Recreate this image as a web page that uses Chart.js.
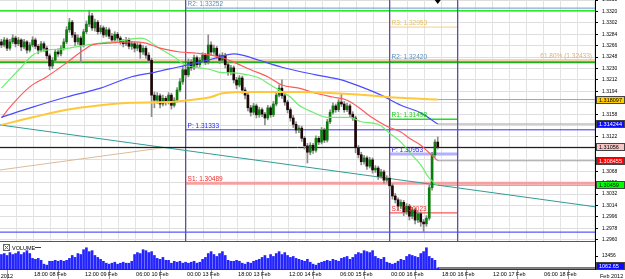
<!DOCTYPE html>
<html>
<head>
<meta charset="utf-8">
<script src="https://cdn.jsdelivr.net/npm/chart.js@4.4.1/dist/chart.umd.min.js"></script>
<style>
  html, body { margin: 0; padding: 0; background: #fff; }
</style>
</head>
<body>
<canvas id="chart" width="625" height="279"></canvas>
<script>
// hourly bars, 07:00 08 Feb .. 17:00 16 Feb 2012
const open = [1.3272, 1.3267, 1.3275, 1.3262, 1.3272, 1.3278, 1.3269, 1.3275, 1.3264, 1.3272,
  1.3259, 1.3267, 1.3275, 1.3265, 1.3259, 1.3269, 1.3262, 1.3250, 1.3234, 1.3243,
  1.3256, 1.3253, 1.3262, 1.3272, 1.3291, 1.3303, 1.3283, 1.3272, 1.3278, 1.3267,
  1.3288, 1.3300, 1.3313, 1.3294, 1.3303, 1.3288, 1.3294, 1.3283, 1.3291, 1.3281,
  1.3275, 1.3284, 1.3278, 1.3272, 1.3269, 1.3275, 1.3265, 1.3269, 1.3262, 1.3267,
  1.3256, 1.3262, 1.3251, 1.3243, 1.3188, 1.3180, 1.3187, 1.3174, 1.3183, 1.3177,
  1.3188, 1.3172, 1.3180, 1.3196, 1.3209, 1.3228, 1.3220, 1.3240, 1.3231, 1.3247,
  1.3236, 1.3243, 1.3251, 1.3240, 1.3267, 1.3256, 1.3262, 1.3250, 1.3243, 1.3251,
  1.3236, 1.3224, 1.3231, 1.3212, 1.3204, 1.3215, 1.3196, 1.3188, 1.3168, 1.3161,
  1.3171, 1.3157, 1.3165, 1.3158, 1.3152, 1.3168, 1.3157, 1.3174, 1.3188, 1.3199,
  1.3187, 1.3177, 1.3165, 1.3152, 1.3142, 1.3133, 1.3136, 1.3120, 1.3108, 1.3098,
  1.3109, 1.3101, 1.3120, 1.3114, 1.3133, 1.3117, 1.3146, 1.3161, 1.3171, 1.3165,
  1.3177, 1.3174, 1.3165, 1.3171, 1.3158, 1.3152, 1.3105, 1.3094, 1.3083, 1.3089,
  1.3076, 1.3086, 1.3070, 1.3073, 1.3060, 1.3067, 1.3054, 1.3057, 1.3045, 1.3029,
  1.3023, 1.3013, 1.3019, 1.3004, 1.3013, 1.2997, 1.3007, 1.2991, 1.3001, 1.2988,
  1.2985, 1.2994, 1.3042, 1.3094, 1.3114];
const high = [1.3276, 1.3279, 1.3278, 1.3276, 1.3283, 1.3281, 1.3279, 1.3277, 1.3276, 1.3274,
  1.3271, 1.3280, 1.3278, 1.3268, 1.3273, 1.3272, 1.3265, 1.3253, 1.3247, 1.3260,
  1.3261, 1.3266, 1.3277, 1.3296, 1.3309, 1.3306, 1.3287, 1.3283, 1.3281, 1.3292,
  1.3305, 1.3322, 1.3317, 1.3308, 1.3306, 1.3298, 1.3297, 1.3295, 1.3294, 1.3285,
  1.3288, 1.3287, 1.3281, 1.3276, 1.3279, 1.3278, 1.3273, 1.3272, 1.3271, 1.3270,
  1.3266, 1.3265, 1.3255, 1.3246, 1.3193, 1.3192, 1.3190, 1.3188, 1.3186, 1.3192,
  1.3191, 1.3184, 1.3200, 1.3214, 1.3234, 1.3232, 1.3245, 1.3244, 1.3251, 1.3250,
  1.3247, 1.3255, 1.3254, 1.3283, 1.3272, 1.3267, 1.3265, 1.3253, 1.3255, 1.3254,
  1.3239, 1.3235, 1.3234, 1.3216, 1.3219, 1.3218, 1.3200, 1.3191, 1.3172, 1.3175,
  1.3174, 1.3169, 1.3168, 1.3161, 1.3172, 1.3171, 1.3178, 1.3192, 1.3204, 1.3212,
  1.3191, 1.3180, 1.3168, 1.3156, 1.3146, 1.3140, 1.3139, 1.3123, 1.3112, 1.3113,
  1.3112, 1.3124, 1.3123, 1.3137, 1.3136, 1.3150, 1.3165, 1.3176, 1.3174, 1.3181,
  1.3191, 1.3178, 1.3175, 1.3174, 1.3162, 1.3155, 1.3109, 1.3098, 1.3093, 1.3092,
  1.3090, 1.3089, 1.3077, 1.3076, 1.3071, 1.3070, 1.3061, 1.3060, 1.3048, 1.3033,
  1.3026, 1.3023, 1.3022, 1.3017, 1.3016, 1.3011, 1.3010, 1.3005, 1.3004, 1.2992,
  1.2998, 1.3046, 1.3098, 1.3118, 1.3122];
const low = [1.3263, 1.3264, 1.3258, 1.3259, 1.3269, 1.3264, 1.3266, 1.3258, 1.3261, 1.3254,
  1.3256, 1.3264, 1.3261, 1.3253, 1.3256, 1.3257, 1.3245, 1.3228, 1.3230, 1.3240,
  1.3249, 1.3250, 1.3259, 1.3269, 1.3287, 1.3279, 1.3266, 1.3268, 1.3239, 1.3264,
  1.3285, 1.3296, 1.3290, 1.3289, 1.3284, 1.3285, 1.3279, 1.3280, 1.3277, 1.3271,
  1.3272, 1.3274, 1.3268, 1.3264, 1.3266, 1.3261, 1.3260, 1.3256, 1.3258, 1.3246,
  1.3252, 1.3246, 1.3239, 1.3154, 1.3168, 1.3175, 1.3168, 1.3171, 1.3172, 1.3174,
  1.3166, 1.3169, 1.3177, 1.3193, 1.3205, 1.3215, 1.3217, 1.3227, 1.3228, 1.3232,
  1.3233, 1.3240, 1.3236, 1.3237, 1.3251, 1.3252, 1.3246, 1.3238, 1.3240, 1.3231,
  1.3219, 1.3220, 1.3207, 1.3198, 1.3201, 1.3191, 1.3182, 1.3163, 1.3155, 1.3157,
  1.3152, 1.3153, 1.3154, 1.3141, 1.3149, 1.3153, 1.3154, 1.3171, 1.3185, 1.3183,
  1.3172, 1.3160, 1.3147, 1.3137, 1.3128, 1.3129, 1.3115, 1.3103, 1.3081, 1.3094,
  1.3096, 1.3098, 1.3110, 1.3111, 1.3113, 1.3114, 1.3143, 1.3158, 1.3161, 1.3162,
  1.3170, 1.3161, 1.3162, 1.3154, 1.3148, 1.3097, 1.3089, 1.3078, 1.3079, 1.3071,
  1.3073, 1.3065, 1.3066, 1.3055, 1.3057, 1.3049, 1.3051, 1.3040, 1.3024, 1.3018,
  1.3007, 1.3009, 1.2998, 1.3000, 1.2991, 1.2993, 1.2985, 1.2987, 1.2981, 1.2972,
  1.2981, 1.2991, 1.3038, 1.3090, 1.3103];
const close = [1.3267, 1.3275, 1.3262, 1.3272, 1.3278, 1.3269, 1.3275, 1.3264, 1.3272, 1.3259,
  1.3267, 1.3275, 1.3265, 1.3259, 1.3269, 1.3262, 1.3250, 1.3234, 1.3243, 1.3256,
  1.3253, 1.3262, 1.3272, 1.3291, 1.3303, 1.3283, 1.3272, 1.3278, 1.3267, 1.3288,
  1.3300, 1.3313, 1.3294, 1.3303, 1.3288, 1.3294, 1.3283, 1.3291, 1.3281, 1.3275,
  1.3284, 1.3278, 1.3272, 1.3269, 1.3275, 1.3265, 1.3269, 1.3262, 1.3267, 1.3256,
  1.3262, 1.3251, 1.3243, 1.3188, 1.3180, 1.3187, 1.3174, 1.3183, 1.3177, 1.3188,
  1.3172, 1.3180, 1.3196, 1.3209, 1.3228, 1.3220, 1.3240, 1.3231, 1.3247, 1.3236,
  1.3243, 1.3251, 1.3240, 1.3267, 1.3256, 1.3262, 1.3250, 1.3243, 1.3251, 1.3236,
  1.3224, 1.3231, 1.3212, 1.3204, 1.3215, 1.3196, 1.3188, 1.3168, 1.3161, 1.3171,
  1.3157, 1.3165, 1.3158, 1.3152, 1.3168, 1.3157, 1.3174, 1.3188, 1.3199, 1.3187,
  1.3177, 1.3165, 1.3152, 1.3142, 1.3133, 1.3136, 1.3120, 1.3108, 1.3098, 1.3109,
  1.3101, 1.3120, 1.3114, 1.3133, 1.3117, 1.3146, 1.3161, 1.3171, 1.3165, 1.3177,
  1.3174, 1.3165, 1.3171, 1.3158, 1.3152, 1.3105, 1.3094, 1.3083, 1.3089, 1.3076,
  1.3086, 1.3070, 1.3073, 1.3060, 1.3067, 1.3054, 1.3057, 1.3045, 1.3029, 1.3023,
  1.3013, 1.3019, 1.3004, 1.3013, 1.2997, 1.3007, 1.2991, 1.3001, 1.2988, 1.2985,
  1.2994, 1.3042, 1.3094, 1.3114, 1.31056];
const volume = [15000, 16000, 14000, 17000, 15000, 16000, 18000, 15000, 17000, 19000, 16000,
  11000, 10000, 11000, 9000, 5000, 4000,
  8000, 8000, 9000, 8000, 9000, 8000, 9000,
  11000, 14000, 12000, 16000, 15000,
  20000, 22000, 18000, 19000, 14000,
  12000, 10000, 8000, 6000, 5000,
  6000, 7000, 5000, 6000, 7000, 6000, 6000, 8000,
  15000, 17000, 16000, 20000, 19000, 17000,
  18000, 14000, 11000, 10000, 12000,
  9000, 9000, 6000, 8000, 7000,
  8000, 6000, 7000, 6000, 7000, 8000, 6000, 7000,
  10000, 12000, 16000, 18000, 15000, 13000, 16000, 18000, 14000,
  9000, 8000, 8000, 9000, 8000,
  6000, 5000, 7000, 6000, 8000, 9000,
  10000, 12000, 14000, 11000, 15000, 13000,
  16000, 18000, 15000, 17000, 14000, 12000, 13000,
  11000, 10000, 9000, 8000, 10000, 7000,
  5000, 4000, 6000, 7000, 8000,
  9000, 8000, 10000, 9000, 8000,
  11000, 12000, 13000, 10000, 12000,
  15000, 17000, 16000, 19000, 18000, 17000, 19000,
  13000, 11000, 10000, 12000,
  7000, 6000, 5000, 6000,
  8000, 10000, 9000, 13000, 15000,
  14000, 13000, 12000, 16000, 18000, 22000,
  13000, 11000, 9000, 1000];

// moving averages read at a few bars each
const maGreenIdx = [0, 7, 11, 16, 22, 30, 35, 41, 49, 51, 55, 61, 65, 70, 74, 77, 82, 87, 91, 95, 98, 102, 105, 110, 115, 120, 123, 127, 133, 137, 141, 144, 148, 151, 154];
const maGreenVal = [1.3199, 1.3232, 1.3251, 1.3259, 1.3261, 1.3267, 1.3270, 1.3273, 1.3278, 1.3276, 1.3264, 1.3248, 1.3235, 1.3231, 1.3228, 1.3224, 1.3223, 1.3220, 1.3215, 1.3204, 1.3196, 1.3185, 1.3172, 1.3161, 1.3153, 1.3153, 1.3153, 1.3146, 1.3142, 1.3128, 1.3114, 1.3098, 1.3078, 1.3057, 1.30459];
const maRedIdx = [0, 3, 10, 16, 23, 29, 32, 38, 46, 51, 56, 63, 69, 78, 82, 88, 94, 99, 105, 111, 117, 122, 126, 130, 136, 141, 144, 148, 151, 154];
const maRedVal = [1.3152, 1.3169, 1.3201, 1.3217, 1.3239, 1.3259, 1.3267, 1.3270, 1.3272, 1.3270, 1.3262, 1.3256, 1.3254, 1.3247, 1.3240, 1.3228, 1.3217, 1.3204, 1.3199, 1.3191, 1.3185, 1.3180, 1.3169, 1.3155, 1.3139, 1.3130, 1.3120, 1.3109, 1.3097, 1.308455];
const maBlueIdx = [0, 11, 23, 35, 46, 54, 62, 70, 77, 82, 85, 91, 99, 111, 120, 127, 134, 141, 148, 154];
const maBlueVal = [1.3153, 1.3169, 1.3185, 1.3199, 1.3217, 1.3224, 1.3232, 1.3240, 1.3248, 1.3253, 1.3251, 1.3243, 1.3232, 1.3220, 1.3212, 1.3201, 1.3188, 1.3172, 1.3160, 1.314244];
const maGoldIdx = [0, 11, 23, 35, 46, 58, 66, 74, 78, 88, 105, 117, 129, 136, 144, 154];
const maGoldVal = [1.3141, 1.3153, 1.3165, 1.3172, 1.3176, 1.3177, 1.3180, 1.3185, 1.3191, 1.3193, 1.3193, 1.3191, 1.3188, 1.3185, 1.3183, 1.318097];

// levels
const periodStart = [65, 137, 161];                          // 00:00 13 Feb, 00:00 16 Feb, 00:00 17 Feb
const weekPivot = [1.33252, 1.31333, 1.30489];                // R2, P, S1
const dayPivot = [1.32953, 1.32420, 1.31498, 1.30953, 1.30023]; // R3, R2, R1, P, S1
const fibLevel = 1.32433;
const greenLevels = [1.3321, 1.3240];
const bidPrice = 1.31056;
const lowerLine = 1.2972;
const tealTrend = [1.3141, 1.3012];
const tanTrend = [1.3070, 1.3105];
const tanTrendEnd = 57;
const lastVolume = 1062.65;

const xTickIdx = [11, 29, 47, 65, 83, 101, 119, 137, 155, 173, 191];
const xTickLabels = ['18:00 08 Feb', '12:00 09 Feb', '06:00 10 Feb', '00:00 13 Feb', '18:00 13 Feb',
  '12:00 14 Feb', '06:00 15 Feb', '00:00 16 Feb', '18:00 16 Feb', '12:00 17 Feb', '06:00 18 Feb'];
const priceTicks = [1.2960, 1.2978, 1.2996, 1.3014, 1.3032, 1.3050, 1.3068, 1.3086, 1.3104, 1.3122, 1.3140,
  1.3158, 1.3176, 1.3194, 1.3212, 1.3230, 1.3248, 1.3266, 1.3284, 1.3302, 1.3320, 1.3338];
const volTicks = [13456];

const X_MIN = -0.5, X_MAX = 209.5, P_MIN = 1.2958, P_MAX = 1.3338;
const last = close.length - 1;
const idx = close.map((_, i) => i);

Chart.defaults.font.family = '"Liberation Sans", Arial, sans-serif';

function maLine(xs, ys, color, width) {
  return {
    type: 'line', data: xs.map((x, k) => ({ x: x, y: ys[k] })),
    borderColor: color, borderWidth: width, pointRadius: 0,
    cubicInterpolationMode: 'monotone', yAxisID: 'y', order: 1
  };
}
function hLine(x0, x1, v, color, width, order) {
  return {
    type: 'line', data: [{ x: x0, y: v }, { x: x1, y: v }],
    borderColor: color, borderWidth: width, pointRadius: 0, yAxisID: 'y', order: order || 20
  };
}

const datasets = [
  maLine(maGoldIdx, maGoldVal, '#ffc83a', 2),
  maLine(maBlueIdx, maBlueVal, '#4b4bff', 1.2),
  maLine(maRedIdx, maRedVal, '#ff5a5a', 1.2),
  maLine(maGreenIdx, maGreenVal, '#6cee6c', 1.2),
  {
    type: 'bar', data: idx.map(i => ({ x: i, y: [open[i], close[i]] })),
    backgroundColor: idx.map(i => close[i] >= open[i] ? '#0b7d0b' : '#1c0606'),
    barThickness: 2, grouped: false, minBarLength: 1, yAxisID: 'y', order: 3
  },
  {
    type: 'bar', data: idx.map(i => ({ x: i, y: [low[i], high[i]] })),
    backgroundColor: '#8c8c8c', barThickness: 1, grouped: false, yAxisID: 'y', order: 4
  },
  {
    type: 'bar', data: idx.map(i => ({ x: i, y: volume[i] })),
    backgroundColor: '#2424ff', barThickness: 2, grouped: false, yAxisID: 'yv', order: 4
  },
  { type: 'line', data: [{ x: last, y: lastVolume }, { x: X_MAX, y: lastVolume }], borderColor: '#000', borderWidth: 1, pointRadius: 0, yAxisID: 'yv', order: 5 },
  // trend lines
  { type: 'line', data: [{ x: X_MIN, y: tealTrend[0] }, { x: X_MAX, y: tealTrend[1] }], borderColor: '#2f9c96', borderWidth: 1, pointRadius: 0, yAxisID: 'y', order: 18 },
  { type: 'line', data: [{ x: X_MIN, y: tanTrend[0] }, { x: tanTrendEnd, y: tanTrend[1] }], borderColor: '#dcbb96', borderWidth: 1, pointRadius: 0, yAxisID: 'y', order: 18 },
  // full width levels
  hLine(X_MIN, X_MAX, greenLevels[0], '#2ee82e', 1.5),
  hLine(X_MIN, X_MAX, fibLevel, '#f2c58a', 1.5),
  hLine(X_MIN, X_MAX, greenLevels[1], '#1fae1f', 2),
  hLine(X_MIN, X_MAX, bidPrice, '#000000', 1, 6),
  hLine(X_MIN, X_MAX, lowerLine, '#3030ff', 1),
  // weekly pivots from 13 Feb
  hLine(periodStart[0], X_MAX, weekPivot[0], '#6a9cc6', 1),
  hLine(periodStart[0], X_MAX, weekPivot[1], '#2f2fff', 1),
  hLine(periodStart[0], X_MAX, weekPivot[2], '#f7a0a0', 3),
  // daily pivots 16 Feb
  hLine(periodStart[1], periodStart[2], dayPivot[0], '#f5cf80', 1),
  hLine(periodStart[1], periodStart[2], dayPivot[1], '#7fa3c2', 1),
  hLine(periodStart[1], periodStart[2], dayPivot[2], '#22dd22', 1.5),
  hLine(periodStart[1], periodStart[2], dayPivot[3], '#b0b0ff', 3),
  hLine(periodStart[1], periodStart[2], dayPivot[4], '#f03030', 1),
  // moving average end markers
  hLine(last, X_MAX, maGoldVal[maGoldVal.length - 1], '#a0a0a0', 1),
  hLine(last, X_MAX, maBlueVal[maBlueVal.length - 1], '#a0a0a0', 1),
  hLine(last, X_MAX, maRedVal[maRedVal.length - 1], '#a0a0a0', 1),
  hLine(last, X_MAX, maGreenVal[maGreenVal.length - 1], '#a0a0a0', 1)
];
// period separators
periodStart.forEach(p => datasets.push({
  type: 'line', data: [{ x: p, y: P_MIN }, { x: p, y: P_MAX }],
  borderColor: '#6f3fc8', borderWidth: 1.2, pointRadius: 0, yAxisID: 'y', order: 19
}));

const overlay = {
  id: 'overlay',
  beforeDatasetsDraw(chart) {
    const { ctx } = chart;
    const xs = chart.scales.x, ys = chart.scales.y;
    ctx.save();
    ctx.strokeStyle = '#e3e3e3';
    ctx.lineWidth = 1;
    for (let i = 5; i < X_MAX; i += 6) {
      const px = Math.round(xs.getPixelForValue(i)) + 0.5;
      ctx.beginPath(); ctx.moveTo(px, ys.top); ctx.lineTo(px, ys.bottom); ctx.stroke();
    }
    ctx.restore();
  },
  afterDraw(chart) {
    const { ctx, chartArea } = chart;
    const xs = chart.scales.x, ys = chart.scales.y, yv = chart.scales.yv;
    ctx.save();

    // pane separator
    ctx.strokeStyle = '#555';
    ctx.beginPath(); ctx.moveTo(chartArea.left, Math.round(ys.bottom) + 0.5); ctx.lineTo(chartArea.right, Math.round(ys.bottom) + 0.5); ctx.stroke();

    // pivot labels
    ctx.font = '6.5px "Liberation Sans", Arial, sans-serif';
    ctx.textBaseline = 'bottom';
    ctx.textAlign = 'left';
    const lab = (txt, xi, v, color) => {
      ctx.fillStyle = color;
      ctx.fillText(txt, xs.getPixelForValue(xi) + 2, ys.getPixelForValue(v) - 0.5);
    };
    lab('R2: ' + weekPivot[0].toFixed(5), periodStart[0], weekPivot[0], '#5d8fba');
    lab('P: ' + weekPivot[1].toFixed(5), periodStart[0], weekPivot[1], '#2525ff');
    lab('S1: ' + weekPivot[2].toFixed(5), periodStart[0], weekPivot[2], '#ee2a2a');
    lab('R3: ' + dayPivot[0].toFixed(5), periodStart[1], dayPivot[0], '#e6c066');
    lab('R2: ' + dayPivot[1].toFixed(5), periodStart[1], dayPivot[1], '#5d8fba');
    lab('R1: ' + dayPivot[2].toFixed(5), periodStart[1], dayPivot[2], '#1ccc1c');
    lab('P: ' + dayPivot[3].toFixed(5), periodStart[1], dayPivot[3], '#2525ff');
    lab('S1: ' + dayPivot[4].toFixed(5), periodStart[1], dayPivot[4], '#ee2a2a');
    ctx.textAlign = 'right';
    ctx.fillStyle = '#d9b27a';
    ctx.fillText('61.80% (' + fibLevel.toFixed(5) + ')', chartArea.right - 3, ys.getPixelForValue(fibLevel) - 0.5);

    // price boxes on the axis
    ctx.font = '5.5px "Liberation Sans", Arial, sans-serif';
    ctx.textAlign = 'left';
    ctx.textBaseline = 'middle';
    const box = (txt, py, bg, fg) => {
      const top = Math.round(py) - 4;
      ctx.fillStyle = bg;
      ctx.fillRect(chartArea.right + 1, top, 29, 8);
      ctx.strokeStyle = '#444';
      ctx.strokeRect(chartArea.right + 1.5, top + 0.5, 28, 7);
      ctx.fillStyle = fg;
      ctx.fillText(txt, chartArea.right + 4, top + 4.5);
    };
    const gEnd = maGoldVal[maGoldVal.length - 1], bEnd = maBlueVal[maBlueVal.length - 1];
    const rEnd = maRedVal[maRedVal.length - 1], grEnd = maGreenVal[maGreenVal.length - 1];
    box(String(gEnd), ys.getPixelForValue(gEnd), '#ffcc00', '#000');
    box(String(bEnd), ys.getPixelForValue(bEnd), '#0a0aff', '#fff');
    box(String(bidPrice), ys.getPixelForValue(bidPrice), '#f6c6c6', '#000');
    box(String(rEnd), ys.getPixelForValue(rEnd), '#ff0000', '#fff');
    box(String(grEnd), ys.getPixelForValue(grEnd), '#00ff00', '#000');
    box(String(lastVolume), yv.getPixelForValue(lastVolume) - 2, '#0a0aff', '#fff');

    // volume legend
    ctx.strokeStyle = '#666';
    ctx.strokeRect(3.5, yv.top + 3.5, 6, 6);
    ctx.beginPath(); ctx.moveTo(4.5, yv.top + 4.5); ctx.lineTo(8.5, yv.top + 8.5); ctx.moveTo(8.5, yv.top + 4.5); ctx.lineTo(4.5, yv.top + 8.5); ctx.stroke();
    ctx.fillStyle = '#000';
    ctx.font = '5.5px "Liberation Sans", Arial, sans-serif';
    ctx.fillText('VOLUME', 12, yv.top + 7);
    ctx.strokeStyle = '#2424ff';
    ctx.beginPath(); ctx.moveTo(35, yv.top + 6.5); ctx.lineTo(41, yv.top + 6.5); ctx.stroke();

    // date labels at the edges
    const ly = xs.top + 7;
    ctx.fillText('Feb 2012', chartArea.right + 5, ly);
    ctx.textAlign = 'right';
    ctx.fillText('08 Feb 2012', 13, ly);

    // arrow marker above last bar
    const ax = xs.getPixelForValue(last);
    ctx.fillStyle = '#000';
    ctx.beginPath(); ctx.moveTo(ax - 3, 0); ctx.lineTo(ax + 3, 0); ctx.lineTo(ax, 4); ctx.closePath(); ctx.fill();
    ctx.restore();
  }
};

new Chart(document.getElementById('chart'), {
  type: 'bar',
  data: { datasets: datasets },
  options: {
    responsive: false,
    animation: false,
    layout: { autoPadding: false, padding: 0 },
    plugins: { legend: { display: false }, tooltip: { enabled: false } },
    scales: {
      x: {
        type: 'linear', min: X_MIN, max: X_MAX, offset: false,
        grid: { drawOnChartArea: false, drawTicks: true, tickLength: 10, tickColor: '#9a9a9a' },
        border: { color: '#333' },
        ticks: {
          align: 'start', padding: -8, autoSkip: false, maxRotation: 0, color: '#000',
          font: { size: 5.5 },
          callback: v => ' ' + (xTickLabels[xTickIdx.indexOf(v)] || '')
        },
        afterBuildTicks: s => { s.ticks = xTickIdx.map(v => ({ value: v })); },
        afterFit: s => { s.height = 10; s.paddingLeft = 0; s.paddingRight = 0; }
      },
      y: {
        position: 'right', stack: 'pane', stackWeight: 241, min: P_MIN, max: P_MAX,
        grid: { color: '#dedede', tickLength: 3, tickColor: '#000' },
        border: { color: '#000' },
        ticks: { padding: 4, color: '#000', font: { size: 5 }, autoSkip: false, callback: v => v.toFixed(4) },
        afterBuildTicks: s => { s.ticks = priceTicks.map(v => ({ value: v })); },
        afterFit: s => { s.width = 30; s.paddingTop = 0; s.paddingBottom = 0; }
      },
      yv: {
        position: 'right', stack: 'pane', stackWeight: 28, min: 0, max: 29000,
        grid: { drawOnChartArea: false, tickLength: 3, tickColor: '#000' },
        border: { color: '#000' },
        ticks: { padding: 4, color: '#000', font: { size: 5 }, autoSkip: false, callback: v => String(v) },
        afterBuildTicks: s => { s.ticks = volTicks.map(v => ({ value: v })); },
        afterFit: s => { s.width = 30; s.paddingTop = 0; s.paddingBottom = 0; }
      }
    }
  },
  plugins: [overlay]
});
</script>
</body>
</html>
